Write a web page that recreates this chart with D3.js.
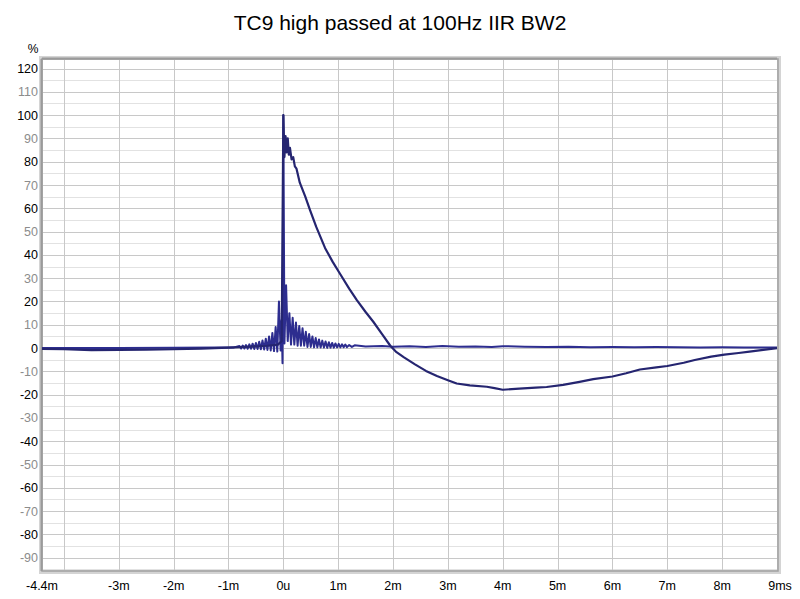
<!DOCTYPE html>
<html><head><meta charset="utf-8">
<script src="https://cdn.jsdelivr.net/npm/d3@7"></script>
<style>body{margin:0;background:#fff;} text{font-family:"Liberation Sans",Arial,sans-serif;}</style>
</head><body><svg id="c" width="800" height="599"></svg>
<script>
// Step response (ms, %)
const stepT = [-4.4,-4.0,-3.5,-3.0,-2.5,-2.0,-1.5,-1.0,-0.6,-0.3,-0.1,-0.03,0.0,0.02,0.04,0.06,0.08,0.10,0.12,0.15,0.18,0.21,0.24,0.3,0.4,0.49,0.6,0.76,0.9,1.03,1.2,1.34,1.5,1.64,1.8,1.95,2.05,2.2,2.4,2.6,2.8,3.0,3.16,3.4,3.71,3.85,4.0,4.3,4.6,4.8,5.1,5.4,5.65,6.0,6.25,6.5,6.8,7.0,7.3,7.5,7.8,8.04,8.3,8.5,8.75,9.0];
const stepV = [-0.3,-0.5,-0.9,-0.8,-0.7,-0.5,-0.2,0.2,0.6,1.0,1.5,3,100,82,91,84,90,83,86,81,82,78,77,71,65,59,52,43,37,32,25.5,20.6,15.5,11.3,6,1,-1.5,-4,-7,-9.8,-12,-13.8,-15.2,-16,-16.6,-17.2,-17.9,-17.4,-17,-16.7,-15.8,-14.5,-13.3,-12.2,-10.8,-9.2,-8.3,-7.7,-6.3,-5.1,-3.7,-2.8,-2.1,-1.5,-0.8,0];
// Impulse response (ms, %)
const impT = [-4.4,-3.0,-2.0,-1.2,-0.9,-0.80,-0.77,-0.74,-0.71,-0.68,-0.65,-0.62,-0.59,-0.56,-0.53,-0.50,-0.47,-0.44,-0.41,-0.38,-0.35,-0.32,-0.29,-0.26,-0.23,-0.20,-0.17,-0.14,-0.11,-0.08,-0.05,-0.03,-0.015,0.0,0.02,0.05,0.08,0.11,0.14,0.17,0.20,0.23,0.26,0.29,0.32,0.35,0.38,0.41,0.44,0.47,0.50,0.53,0.56,0.59,0.62,0.65,0.68,0.71,0.74,0.77,0.80,0.83,0.86,0.89,0.92,0.95,0.98,1.01,1.04,1.07,1.10,1.13,1.16,1.2,1.25,1.3,1.5,1.8,2.0,2.3,2.6,2.9,3.2,3.5,3.8,4.0,4.4,4.8,5.2,5.6,6.0,6.4,6.8,7.2,7.6,8.0,8.4,8.8,9.0];
const impV = [0,0,0.1,0.2,0.3,0.9,-0.2,1.1,-0.2,1.3,-0.3,1.6,-0.3,1.9,-0.4,2.2,-0.4,2.7,-0.5,3.3,-0.6,4.0,-0.8,5.0,-1.0,6.5,-1.3,9,-1.5,20,-1,12,-6.5,100,2,27,3,15,1.5,13,1.5,11,1,9.5,1,8.5,1,7,0.5,6,0.5,5,0.3,4.3,0.3,3.7,0.2,3.2,0.2,2.8,0.1,2.5,0.2,2.2,0.2,2,0.3,1.8,0.3,1.6,0.4,1.5,0.4,1.3,0.5,1.2,0.7,0.9,0.6,0.8,0.5,0.9,0.6,0.7,0.5,0.8,0.6,0.5,0.6,0.4,0.5,0.4,0.5,0.4,0.3,0.4,0.3,0.3,0.3];
const xTicks = [-4.4,-3,-2,-1,0,1,2,3,4,5,6,7,8,9];
const xLabels = ["-4.4m","-3m","-2m","-1m","0u","1m","2m","3m","4m","5m","6m","7m","8m","9ms"];
const xGrid = [-4,-3,-2,-1,0,1,2,3,4,5,6,7,8];
const yTicks = [120,110,100,90,80,70,60,50,40,30,20,10,0,-10,-20,-30,-40,-50,-60,-70,-80,-90];
const title = "TC9 high passed at 100Hz IIR BW2";

const svg = d3.select("#c");
const L=42,R=777,T=59,B=571;
const x = d3.scaleLinear().domain([-4.4,9]).range([L,R]);
const y = d3.scaleLinear().domain([-95.7,124.1]).range([B,T]);

// grid
const g = svg.append("g");
const minor = d3.range(-95,124,5).filter(v=>v%10!==0);
g.selectAll(".mn").data(minor).join("line").attr("x1",L).attr("x2",R)
 .attr("y1",d=>Math.round(y(d))+0.5).attr("y2",d=>Math.round(y(d))+0.5).attr("stroke","#e2e2e2");
g.selectAll(".mj").data(yTicks).join("line").attr("x1",L).attr("x2",R)
 .attr("y1",d=>Math.round(y(d))+0.5).attr("y2",d=>Math.round(y(d))+0.5).attr("stroke","#c8c8c8");
g.selectAll(".vx").data(xGrid).join("line").attr("y1",T).attr("y2",B)
 .attr("x1",d=>Math.round(x(d))+0.5).attr("x2",d=>Math.round(x(d))+0.5).attr("stroke","#c8c8c8");

// frame
svg.append("rect").attr("x",L-1).attr("y",T-1).attr("width",R-L+3).attr("height",B-T+2)
 .attr("fill","none").attr("stroke","#d4d4d4").attr("stroke-width",4);
svg.append("rect").attr("x",L).attr("y",T).attr("width",R-L+1).attr("height",B-T)
 .attr("fill","none").attr("stroke","#a0a0a0").attr("stroke-width",1.5);
svg.append("line").attr("x1",L-0.5).attr("x2",L-0.5).attr("y1",T).attr("y2",B).attr("stroke","#9a9a9a").attr("stroke-width",2);
svg.append("line").attr("x1",L).attr("x2",R).attr("y1",T-0.5).attr("y2",T-0.5).attr("stroke","#9a9a9a").attr("stroke-width",2);

// lines
const line = d3.line().x(d=>x(d[0])).y(d=>y(d[1]));
svg.append("clipPath").attr("id","cp").append("rect").attr("x",L).attr("y",T).attr("width",R-L+1).attr("height",B-T);
svg.append("path").datum(impT.map((t,i)=>[t,impV[i]])).attr("d",line)
 .attr("fill","none").attr("stroke","#2d2d8f").attr("stroke-width",2).attr("stroke-linejoin","round").attr("clip-path","url(#cp)");
svg.append("path").datum(stepT.map((t,i)=>[t,stepV[i]])).attr("d",line)
 .attr("fill","none").attr("stroke","#252570").attr("stroke-width",2.2).attr("stroke-linejoin","round").attr("clip-path","url(#cp)");

// y labels
svg.selectAll(".yl").data(yTicks).join("text").attr("x",38).attr("y",d=>y(d)+4.5)
 .attr("text-anchor","end").attr("font-size",12.5)
 .attr("fill",d=>d%20===0?"#000":"#8c8c8c").text(d=>d);
svg.append("text").attr("x",33).attr("y",53).attr("text-anchor","middle").attr("font-size",12).attr("fill","#000").text("%");

// x labels
svg.selectAll(".xl").data(xTicks).join("text").attr("x",(d,i)=>x(d)+(i===xTicks.length-1?3:0)).attr("y",590)
 .attr("text-anchor","middle").attr("font-size",12.5).attr("fill","#000").text((d,i)=>xLabels[i]);

svg.append("text").attr("x",400).attr("y",30).attr("text-anchor","middle").attr("font-size",21).attr("fill","#000").text(title);
</script></body></html>
